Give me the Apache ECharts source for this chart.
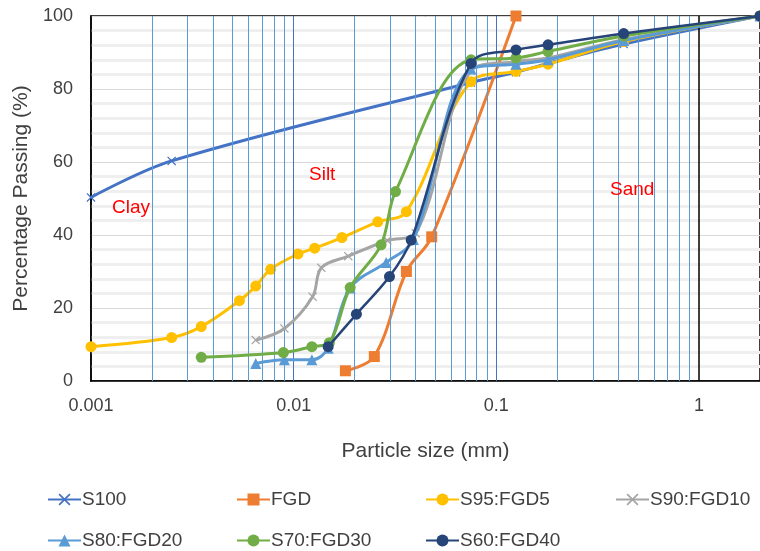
<!DOCTYPE html>
<html>
<head>
<meta charset="utf-8" />
<title>Particle size distribution</title>
<script src="https://cdn.jsdelivr.net/npm/echarts@6/dist/echarts.min.js"></script>
<style>
  html, body { margin: 0; padding: 0; background: #fff; }
  #main { width: 760px; height: 551px; }
</style>
</head>
<body>
<div id="main"></div>
<script type="text/javascript">
// grain size data (mm / % passing)
var s100Size = [0.001, 0.0025, 0.075, 0.125, 0.18, 0.425, 2];
var s100Pass = [50.3, 60.3, 81.8, 84.6, 87, 92.3, 100];

var fgdSize = [0.018, 0.025, 0.036, 0.048, 0.125];
var fgdPass = [2.8, 6.7, 30, 39.5, 100];

var s95Size = [0.001, 0.0025, 0.0035, 0.0054, 0.0065, 0.0077, 0.0105, 0.0127, 0.0173, 0.026, 0.036, 0.075, 0.125, 0.18, 0.425, 2];
var s95Pass = [9.4, 11.9, 14.9, 22, 26, 30.6, 34.8, 36.4, 39.3, 43.6, 46.4, 82, 84.8, 86.8, 93, 100];

var s90Size = [0.0065, 0.009, 0.0124, 0.0137, 0.0186, 0.029, 0.04, 0.075, 0.125, 0.18, 0.425, 2];
var s90Pass = [11.2, 14.4, 23.1, 31, 34.2, 38.5, 40.5, 85, 87.5, 88.5, 93.5, 100];

var s80Size = [0.0065, 0.009, 0.0123, 0.0148, 0.019, 0.0286, 0.039, 0.075, 0.125, 0.18, 0.425, 2];
var s80Pass = [4.8, 5.8, 5.8, 9, 25.5, 32.5, 38.8, 85.5, 86.8, 88, 93.3, 100];

var s70Size = [0.0035, 0.0089, 0.0123, 0.015, 0.019, 0.027, 0.0318, 0.075, 0.125, 0.18, 0.425, 2];
var s70Pass = [6.5, 7.8, 9.4, 10.5, 25.6, 37.3, 51.9, 88, 88.5, 90.3, 94.5, 100];

var s60Size = [0.0148, 0.0204, 0.0297, 0.038, 0.075, 0.125, 0.18, 0.425, 2];
var s60Pass = [9.4, 18.3, 28.6, 38.6, 87, 90.7, 92.1, 95.2, 100];

var names = ['S100', 'FGD', 'S95:FGD5', 'S90:FGD10', 'S80:FGD20', 'S70:FGD30', 'S60:FGD40'];
var colors = ['#4472c4', '#ed7d31', '#ffc000', '#a5a5a5', '#5b9bd5', '#70ad47', '#264478'];
var sizes = [s100Size, fgdSize, s95Size, s90Size, s80Size, s70Size, s60Size];
var passes = [s100Pass, fgdPass, s95Pass, s90Pass, s80Pass, s70Pass, s60Pass];

var crossPath = 'path://M0,1L1,0L5,4L9,0L10,1L6,5L10,9L9,10L5,6L1,10L0,9L4,5Z';
var symbols = [crossPath, 'rect', 'circle', crossPath, 'triangle', 'circle', 'circle'];
var symbolSizes = [9, 11, 11, 9, 11, 11, 11];

var font = 'Arial, "Liberation Sans", sans-serif';

// vertical log grid lines
var minorLines = [];
for (var k = -3; k <= 0; k++) {
	for (var m = 2; m <= 9; m++) {
		var v = +(m * Math.pow(10, k)).toPrecision(3);
		if (v < 2) minorLines.push({ xAxis: v });
	}
}
var gridLines = minorLines.concat([
	{ xAxis: 0.01, lineStyle: { color: '#4472c4' } },
	{ xAxis: 0.1, lineStyle: { color: '#4472c4' } },
	{ xAxis: 1, lineStyle: { color: '#000', width: 1.5 } }
]);

var series = [{
	name: 'grid',
	type: 'line',
	data: [],
	z: 1,
	silent: true,
	markLine: {
		silent: true,
		precision: 6,
		symbol: ['none', 'none'],
		label: { show: false },
		animation: false,
		lineStyle: { color: '#5b9bd5', width: 1, type: 'solid' },
		data: gridLines
	}
}];

for (var i = 0; i < names.length; i++) {
	var pts = [];
	for (var j = 0; j < sizes[i].length; j++) {
		pts.push([sizes[i][j], passes[i][j]]);
	}
	series.push({
		name: names[i],
		type: 'line',
		z: 2 + i,
		data: pts,
		smooth: 0.35,
		symbol: symbols[i],
		symbolSize: symbolSizes[i],
		showAllSymbol: true,
		lineStyle: { color: colors[i], width: i == 6 ? 2.5 : 3 },
		itemStyle: { color: colors[i] }
	});
}

// one legend box per item so the columns line up
var legends = [];
var colX = [42, 231, 420, 610];
for (var i = 0; i < names.length; i++) {
	legends.push({
		data: [names[i]],
		left: colX[i % 4],
		top: i < 4 ? 485 : 526,
		itemWidth: 33,
		itemHeight: 15,
		itemGap: 0,
		textStyle: { fontFamily: font, fontSize: 19, color: '#404040', padding: [0, 0, 0, -4] }
	});
}

var chart = echarts.init(document.getElementById('main'));
var option = {
	animation: false,
	color: colors,
	grid: {
		left: 91,
		right: 0,
		top: 16,
		bottom: 170,
		show: true,
		borderColor: '#000',
		borderWidth: 1.5
	},
	legend: legends,
	xAxis: {
		type: 'log',
		logBase: 10,
		min: 0.001,
		max: 2,
		name: 'Particle size (mm)',
		nameLocation: 'middle',
		nameGap: 60,
		nameTextStyle: { fontFamily: font, fontSize: 21, color: '#404040' },
		axisLine: { show: true, lineStyle: { color: '#000', width: 1.5 } },
		axisTick: { show: false },
		splitLine: { show: false },
		axisLabel: {
			margin: 16,
			fontFamily: font,
			fontSize: 18,
			color: '#404040',
			showMaxLabel: false,
			formatter: function (v) {
				var l = Math.log(v) / Math.LN10;
				if (Math.abs(l - Math.round(l)) > 1e-6) return '';
				return String(+v.toPrecision(3));
			}
		}
	},
	yAxis: {
		type: 'value',
		min: 0,
		max: 100,
		interval: 20,
		name: 'Percentage Passing (%)',
		nameLocation: 'middle',
		nameGap: 52,
		nameTextStyle: { fontFamily: font, fontSize: 21, color: '#404040' },
		axisLine: { show: true, lineStyle: { color: '#000', width: 1.5 } },
		axisTick: { show: false },
		axisLabel: { margin: 18, fontFamily: font, fontSize: 18, color: '#404040' },
		splitLine: { show: true, lineStyle: { color: '#d9d9d9', width: 1 } },
		minorTick: { show: false, splitNumber: 5 },
		minorSplitLine: { show: true, lineStyle: { color: '#efefef', width: 3 } }
	},
	graphic: [
		{ type: 'text', z: 100, left: 112, top: 198, style: { text: 'Clay', fill: '#ff0000', font: '19px ' + font } },
		{ type: 'text', z: 100, left: 309, top: 165, style: { text: 'Silt', fill: '#ff0000', font: '19px ' + font } },
		{ type: 'text', z: 100, left: 610, top: 180, style: { text: 'Sand', fill: '#ff0000', font: '19px ' + font } }
	],
	series: series
};
chart.setOption(option);
</script>
</body>
</html>
